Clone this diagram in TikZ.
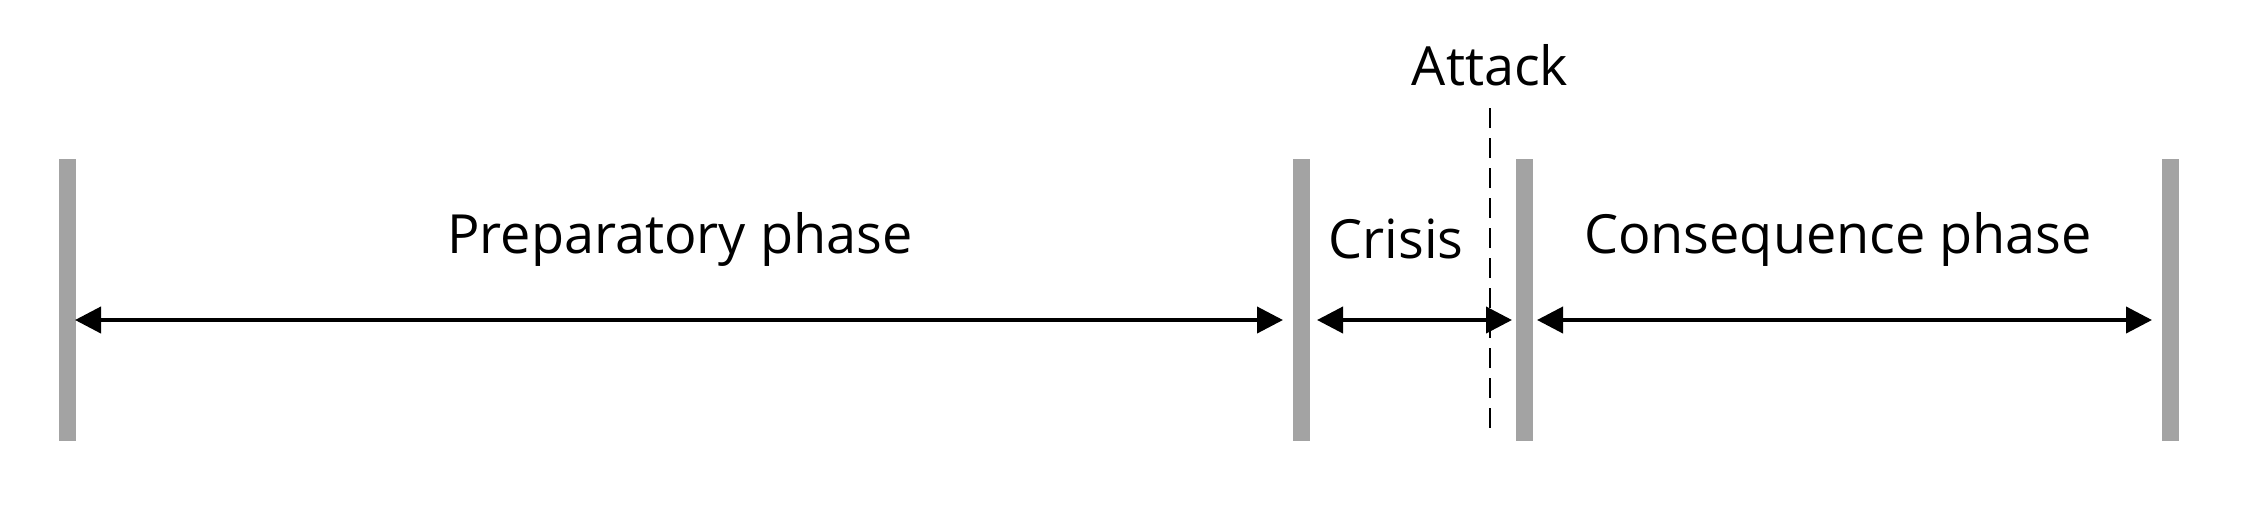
\documentclass[tikz,border=0pt]{standalone}
\usepackage{fontspec}
\setmainfont{Open Sans}
\usetikzlibrary{arrows.meta}
\tikzset{
  bar/.style={draw=gray!80!black!60, line width=17pt},
  span/.style={line width=4pt, {Triangle[length=26pt,width=26pt]}-{Triangle[length=26pt,width=26pt]}},
  lbl/.style={font=\fontsize{54}{60}\selectfont},
}
\begin{document}
\begin{tikzpicture}[x=1pt,y=-1pt]
\useasboundingbox (0,0) rectangle (2258,512);
% phase borders
\coordinate (b1t) at (67,159);   \coordinate (b1b) at (67,441);
\coordinate (b2t) at (1301,159); \coordinate (b2b) at (1301,441);
\coordinate (b3t) at (1524,159); \coordinate (b3b) at (1524,441);
\coordinate (b4t) at (2170,159); \coordinate (b4b) at (2170,441);
\draw[bar] (b1t) -- (b1b);
\draw[bar] (b2t) -- (b2b);
\draw[bar] (b3t) -- (b3b);
\draw[bar] (b4t) -- (b4b);

% attack line
\coordinate (at) at (1490,108);
\coordinate (ab) at (1490,434);
\draw[dashed, line width=2pt, dash pattern=on 20pt off 10pt] (at) -- (ab);
\node[lbl] (attack) at (1490,65) {Attack};

% spans
\coordinate (p1) at (75,320);   \coordinate (p2) at (1283,320);
\coordinate (c1) at (1317,320); \coordinate (c2) at (1512,320);
\coordinate (q1) at (1537,320); \coordinate (q2) at (2152,320);
\draw[span] (p1) -- (p2);
\draw[span] (c1) -- (c2);
\draw[span] (q1) -- (q2);

\node[lbl] (prep) at (680,239) {Preparatory phase};
\node[lbl] (crisis) at (1396,239) {Crisis};
\node[lbl] (cons) at (1838,239) {Consequence phase};
\end{tikzpicture}
\end{document}
